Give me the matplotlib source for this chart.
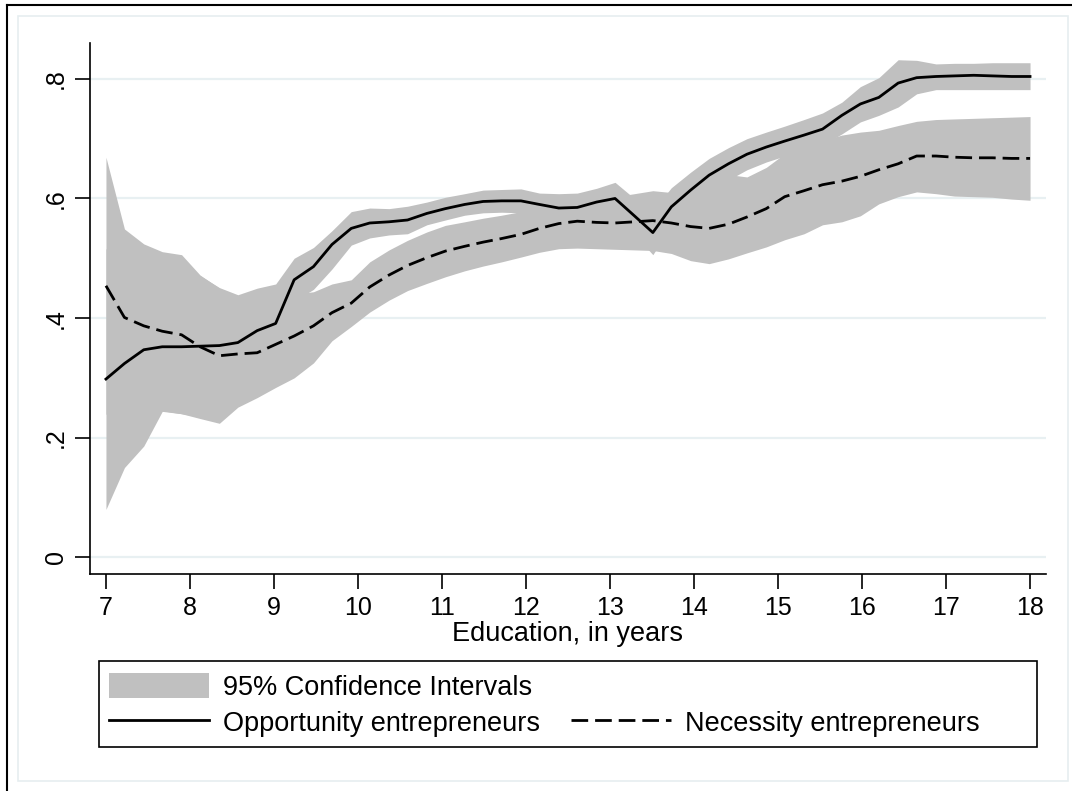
import numpy as np
import matplotlib
matplotlib.use('Agg')
import matplotlib.pyplot as plt
from matplotlib.patches import Rectangle, Patch
from matplotlib.lines import Line2D

plt.rcParams['font.family'] = ['Liberation Sans', 'DejaVu Sans']

# evaluation grid (years of education) and smoothed shares
educ = [7.00, 7.22, 7.45, 7.67, 7.90, 8.12, 8.35, 8.57, 8.80, 9.02,
        9.24, 9.47, 9.69, 9.92, 10.14, 10.37, 10.59, 10.82, 11.04, 11.27,
        11.49, 11.71, 11.94, 12.16, 12.39, 12.61, 12.84, 13.06, 13.29, 13.51,
        13.73, 13.96, 14.18, 14.41, 14.63, 14.86, 15.08, 15.31, 15.53, 15.76,
        15.98, 16.20, 16.43, 16.65, 16.88, 17.10, 17.33, 17.55, 17.78, 18.00]

opp = [.298, .324, .347, .352, .352, .353, .354, .359, .379, .391,
       .464, .486, .523, .550, .559, .561, .564, .575, .583, .590,
       .595, .596, .596, .590, .584, .585, .594, .600, .571, .543,
       .586, .614, .639, .658, .674, .686, .696, .706, .716, .739,
       .758, .769, .793, .802, .804, .805, .806, .805, .804, .804]
opp_lo = [.080, .150, .186, .244, .240, .235, .257, .279, .308, .325,
          .428, .448, .482, .522, .534, .539, .541, .556, .564, .572,
          .576, .577, .576, .571, .560, .561, .571, .573, .540, .506,
          .554, .584, .611, .631, .648, .661, .671, .680, .689, .708,
          .728, .739, .753, .775, .782, .782, .782, .782, .782, .782]
opp_hi = [.516, .498, .508, .460, .464, .471, .451, .439, .450, .457,
          .500, .518, .546, .578, .584, .583, .587, .594, .602, .608,
          .614, .615, .616, .609, .608, .609, .617, .627, .600, .580,
          .618, .644, .667, .685, .700, .711, .721, .732, .743, .761,
          .787, .802, .832, .831, .825, .826, .826, .827, .827, .827]

nec = [.454, .401, .387, .378, .372, .352, .337, .340, .342, .356,
       .370, .387, .409, .425, .452, .472, .488, .501, .512, .520,
       .527, .533, .540, .550, .558, .562, .560, .559, .561, .563,
       .559, .553, .550, .557, .569, .583, .603, .613, .623, .629,
       .637, .648, .658, .671, .671, .669, .668, .668, .667, .667]
nec_lo = [.239, .253, .250, .245, .240, .232, .224, .251, .267, .284,
          .300, .325, .362, .386, .410, .430, .446, .458, .469, .479,
          .487, .494, .502, .510, .516, .517, .516, .515, .514, .513,
          .508, .496, .491, .499, .509, .519, .531, .541, .556, .561,
          .571, .591, .603, .611, .608, .604, .603, .602, .599, .597]
nec_hi = [.669, .549, .524, .511, .506, .472, .450, .429, .417, .428,
          .440, .444, .457, .464, .494, .514, .530, .544, .555, .561,
          .567, .572, .578, .590, .600, .608, .604, .603, .608, .613,
          .610, .610, .625, .640, .636, .652, .675, .685, .697, .706,
          .711, .714, .722, .729, .732, .733, .734, .735, .736, .737]

xticks = list(range(7, 19))
yticks = [0, 0.2, 0.4, 0.6, 0.8]
ytick_labels = ['0', '.2', '.4', '.6', '.8']

W, H = 1072, 791
fig = plt.figure(figsize=(W / 100, H / 100), dpi=100)
ax = fig.add_axes([90 / W, 1 - 574 / H, (1046 - 90) / W, (574 - 43) / H])

band = '#c0c0c0'
dash = (0, (6, 2.5))
ax.fill_between(educ, opp_lo, opp_hi, color=band, lw=0)
ax.fill_between(educ, nec_lo, nec_hi, color=band, lw=0)
ax.plot(educ, opp, color='black', lw=2.0)
ax.plot(educ, nec, color='black', lw=2.0, ls=dash)

ax.set_xlim(6.81, 18.19)
ax.set_ylim(-0.028, 0.86)
ax.set_xticks(xticks)
ax.set_yticks(yticks, labels=ytick_labels)
ax.grid(axis='y', color='#e8f0f2', lw=1.6)
ax.set_axisbelow(True)

for s in ['top', 'right']:
    ax.spines[s].set_visible(False)
for s in ['left', 'bottom']:
    ax.spines[s].set_linewidth(1.2)

ax.tick_params(axis='both', direction='out', length=11, width=1.2, labelsize=18, pad=5)
ax.tick_params(axis='y', labelrotation=90)
for lab in ax.get_yticklabels():
    lab.set_va('center')

ax.set_xlabel('Education, in years', fontsize=19.5)
ax.xaxis.set_label_coords(0.5, -(621 - 574) / 531)

# legend
handles = [Patch(facecolor=band, edgecolor='none'),
           Line2D([], [], color='black', lw=2.0),
           Line2D([], [], color='none'),
           Line2D([], [], color='black', lw=2.0, ls=dash)]
labels = ['95% Confidence Intervals', 'Opportunity entrepreneurs', '',
          'Necessity entrepreneurs']
fig.legend(handles, labels, ncol=2, loc='upper left',
           bbox_to_anchor=(109 / W, 1 - 673 / H), bbox_transform=fig.transFigure,
           frameon=False, fontsize=19.5, borderpad=0, borderaxespad=0,
           handlelength=3.7, handleheight=1.05, handletextpad=0.5,
           columnspacing=1.15, labelspacing=0.3)
fig.patches.append(Rectangle((99 / W, 1 - 747 / H), (1037 - 99) / W, (747 - 661) / H,
                             transform=fig.transFigure, fill=False, ec='black', lw=1.2))

# outer frames
fig.patches.append(Rectangle((18 / W, 1 - 781 / H), (1068 - 18) / W, (781 - 16) / H,
                             transform=fig.transFigure, fill=False, ec='#e6eef0', lw=1.2))
fig.add_artist(Line2D([7 / W, 7 / W], [0, 1 - 5 / H], transform=fig.transFigure,
                      color='black', lw=1.5))
fig.add_artist(Line2D([7 / W, 1], [1 - 5 / H, 1 - 5 / H], transform=fig.transFigure,
                      color='black', lw=1.5))

fig.savefig('out.png', dpi=100)
